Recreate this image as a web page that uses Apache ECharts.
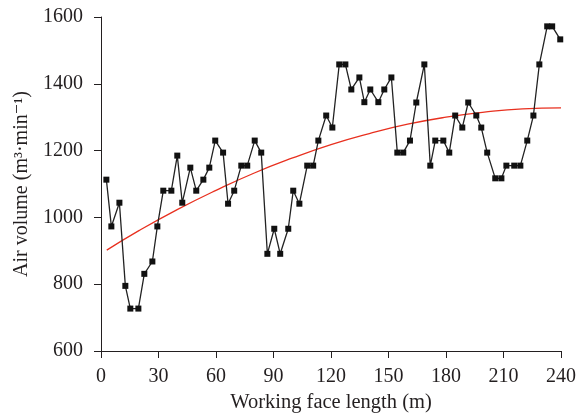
<!DOCTYPE html>
<html><head><meta charset="utf-8">
<script src="https://cdn.jsdelivr.net/npm/echarts@6/dist/echarts.min.js"></script>
<style>html,body{margin:0;padding:0;background:#fff}#c{width:577px;height:417px}</style>
</head><body><div id="c"></div>
<script>
const xPos = [2.8,5.4,9.6,12.7,15.3,19.5,22.6,26.8,29.4,32.5,36.7,39.8,42.4,46.6,49.7,53.4,56.5,59.6,63.7,66.3,69.5,73.2,76.3,80.2,83.6,86.8,90.4,93.5,97.7,100.3,103.5,107.6,110.7,113.4,117.5,120.7,124.3,127.5,130.6,134.8,137.4,140.5,144.7,147.8,151.5,154.6,157.7,161.2,164.5,168.7,171.8,174.4,178.6,181.7,184.8,188.5,191.6,195.8,198.4,201.5,205.7,208.9,211.5,215.6,218.8,222.4,225.6,228.7,232.8,235.4,239.6];
const airVolume = [1113,973,1044,795,727,727,831,868,973,1080,1080,1185,1044,1149,1080,1113,1149,1230,1194,1041,1080,1155,1155,1230,1194,891,966,891,966,1080,1041,1155,1155,1230,1305,1269,1458,1458,1383,1419,1345,1383,1345,1383,1419,1194,1194,1230,1344,1458,1155,1230,1230,1194,1305,1269,1344,1305,1269,1194,1117,1117,1155,1155,1155,1230,1305,1458,1572,1572,1533];
const fitX = [3,20,40,60,80,100,120,140,160,180,200,220,240];
const fitY = [902,961,1024,1081,1133,1178,1218,1251,1279,1300,1315,1325,1328];
const xTicks = {min:0,max:240,interval:30};
const yTicks = {min:600,max:1600,interval:200};

const chart = echarts.init(document.getElementById('c'), null, {renderer:'canvas'});
const font = '"Liberation Serif","DejaVu Serif",serif';
const ink = '#231f20';
chart.setOption({
  animation:false,
  grid:{left:101,right:16,top:17,bottom:66,containLabel:false,outerBoundsMode:'none'},
  xAxis:{type:'value',min:xTicks.min,max:xTicks.max,interval:xTicks.interval,
    name:'Working face length (m)',nameLocation:'middle',nameGap:40,
    nameTextStyle:{fontFamily:font,fontSize:20.5,color:ink},
    axisLine:{lineStyle:{color:ink,width:1}},axisTick:{length:7,lineStyle:{color:ink}},
    axisLabel:{fontFamily:font,fontSize:20,color:ink,margin:16,formatter:v=>String(v)},splitLine:{show:false}},
  yAxis:{type:'value',min:yTicks.min,max:yTicks.max,interval:yTicks.interval,
    name:'Air volume (m³·min⁻¹)',nameLocation:'middle',nameGap:68,
    nameTextStyle:{fontFamily:font,fontSize:20,color:ink},
    axisLine:{show:true,lineStyle:{color:ink,width:1}},axisTick:{show:true,length:7,lineStyle:{color:ink}},
    axisLabel:{fontFamily:font,fontSize:20,color:ink,margin:18,formatter:v=>String(v)},splitLine:{show:false}},
  series:[
    {type:'line',data:fitX.map((x,i)=>[x,fitY[i]]),smooth:true,symbol:'none',
     lineStyle:{color:'#e8301f',width:1.3},z:1},
    {type:'line',data:xPos.map((x,i)=>[x,airVolume[i]]),symbol:'rect',symbolSize:6,
     itemStyle:{color:'#111'},lineStyle:{color:'#222',width:1.3},z:2}
  ]
});
</script></body></html>
